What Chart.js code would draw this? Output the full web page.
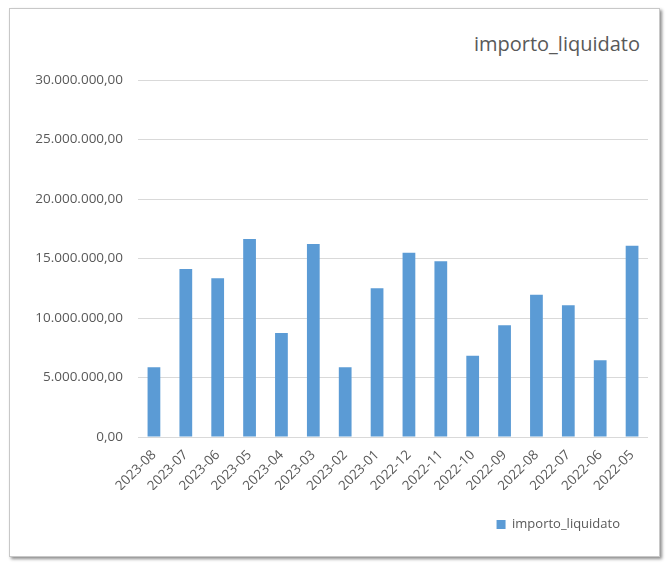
<!DOCTYPE html>
<html>
<head>
<meta charset="utf-8">
<script src="https://cdn.jsdelivr.net/npm/chart.js@4.4.0/dist/chart.umd.min.js"></script>
<style>
  html, body { margin: 0; padding: 0; background: #fff; }
  #frame {
    position: absolute; left: 9px; top: 8px; width: 649px; height: 547px;
    border: 1px solid #c8c8c8; background: #fff;
    box-shadow: 2px 2px 3px rgba(0, 0, 0, 0.45);
  }
  #title {
    position: absolute; right: 19px; top: 25px;
    font: 20px 'Open Sans'; line-height: 20px; color: #595959;
  }
  canvas { position: absolute; left: 0; top: 0; }
</style>
</head>
<body>
<div id="frame">
  <div id="title">importo_liquidato</div>
  <canvas id="bar-chart" width="649" height="547"></canvas>
</div>
<script>
// months shown on the x axis, newest first
var mesi = ['2023-08', '2023-07', '2023-06', '2023-05', '2023-04', '2023-03', '2023-02', '2023-01',
            '2022-12', '2022-11', '2022-10', '2022-09', '2022-08', '2022-07', '2022-06', '2022-05'];
var importoLiquidato = [5870000, 14110000, 13330000, 16640000, 8750000, 16220000, 5870000, 12510000,
                        15490000, 14760000, 6820000, 9400000, 11950000, 11080000, 6450000, 16080000];
var yMax = 30000000;
var yStep = 5000000;

var grigio = '#595959';

// 30000000 -> "30.000.000,00"
function formatta(v) {
    var intero = Math.round(v).toString().replace(/\B(?=(\d{3})+(?!\d))/g, '.');
    return intero + ',00';
}

new Chart(document.getElementById('bar-chart'), {
    type: 'bar',
    data: {
        labels: mesi,
        datasets: [{
            label: 'importo_liquidato',
            backgroundColor: '#5b9bd5',
            data: importoLiquidato,
            categoryPercentage: 0.8,
            barPercentage: 0.5
        }]
    },
    options: {
        responsive: false,
        animation: false,
        layout: { padding: { left: 0, right: 11, top: 71, bottom: 15 } },
        plugins: {
            title: { display: false },
            tooltip: { enabled: false },
            legend: {
                display: true,
                position: 'bottom',
                align: 'end',
                labels: {
                    boxWidth: 9, boxHeight: 9, padding: 28,
                    color: grigio,
                    font: { family: 'Open Sans', size: 13 }
                }
            }
        },
        scales: {
            x: {
                grid: { display: false },
                border: { display: false },
                ticks: {
                    color: grigio,
                    font: { family: 'Open Sans', size: 13.5 },
                    minRotation: 45, maxRotation: 45,
                    padding: 2
                },
                afterFit: function (scale) { scale.height = 53; }
            },
            y: {
                min: 0, max: yMax,
                grid: { color: '#d9d9d9', lineWidth: 1, drawTicks: false },
                border: { display: false },
                ticks: {
                    stepSize: yStep,
                    padding: 15,
                    color: grigio,
                    font: { family: 'Open Sans', size: 13.5 },
                    callback: function (v) { return formatta(v); }
                },
                afterFit: function (scale) { scale.width = 128; }
            }
        }
    }
});
</script>
</body>
</html>
